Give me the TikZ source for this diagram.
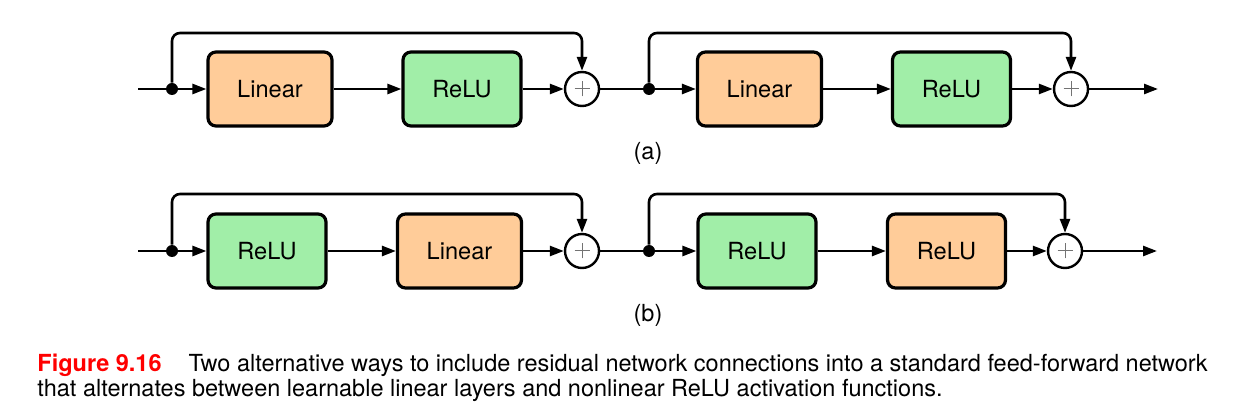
\documentclass[tikz,border=0pt]{standalone}
\usepackage{fontspec}
\setmainfont{TeX Gyre Heros}
\usepackage{tikz}
\usetikzlibrary{calc,arrows.meta}
\definecolor{linorange}{RGB}{255,204,153}
\definecolor{relugreen}{RGB}{161,238,168}
\definecolor{figred}{RGB}{255,0,0}
\tikzset{
	layer/.style={draw, line width=1.6pt, rounded corners=4pt, minimum height=37pt, inner sep=0pt, font=\fontsize{11.8}{14}\selectfont},
	linlayer/.style={layer, fill=linorange, minimum width=62pt},
	relulayer/.style={layer, fill=relugreen, minimum width=59pt},
	sumnode/.style={circle, draw, fill=white, line width=1.2pt, minimum size=17pt, inner sep=0pt,
		path picture={\draw[black!55, line width=0.5pt] ($(path picture bounding box.center)+(-3.75pt,0)$) -- ++(7.5pt,0) ($(path picture bounding box.center)+(0,-3.75pt)$) -- ++(0,7.5pt);}},
	splitdot/.style={circle, fill=black, inner sep=0pt, minimum size=6pt},
	wire/.style={line width=1.3pt},
	conn/.style={wire, -{Triangle[length=7pt,width=5pt]}},
	skip/.style={conn, rounded corners=4pt},
	captext/.style={inner sep=0pt, font=\fontsize{11.75}{14}\selectfont},
}

\begin{document}
\begin{tikzpicture}[x=0.5pt, y=-0.5pt]
			%%%%% START %%%%%
			\useasboundingbox (0, 0) rectangle (1240, 416);
			
			% (a)
			\coordinate (ina) at (138, 89);
			\node[splitdot] (da1) at (172, 89) {};
			\node[linlayer] (la1) at (270, 89) {Linear};
			\node[relulayer] (ra1) at (462, 89) {ReLU};
			\node[sumnode] (sa1) at (582, 89) {};
			\coordinate (ta1) at (582, 33);
			
			\node[splitdot] (da2) at (649, 89) {};
			\node[linlayer] (la2) at (759.5, 89) {Linear};
			\node[relulayer] (ra2) at (951.5, 89) {ReLU};
			\node[sumnode] (sa2) at (1071, 89) {};
			\coordinate (ta2) at (1071, 33);
			\coordinate (outa) at (1158, 89);
			
			\draw[wire] (ina) -- (da1);
			\draw[conn] (da1) -- (la1);
			\draw[conn] (la1) -- (ra1);
			\draw[conn] (ra1) -- (sa1);
			\draw[skip] (da1) |- (ta1) -- (sa1);
			\draw[wire] (sa1) -- (da2);
			\draw[conn] (da2) -- (la2);
			\draw[conn] (la2) -- (ra2);
			\draw[conn] (ra2) -- (sa2);
			\draw[skip] (da2) |- (ta2) -- (sa2);
			\draw[conn] (sa2) -- (outa);
			
			\node[captext] (capa) at (648, 153) {(a)};
			
			% (b)
			\coordinate (inb) at (138, 251);
			\node[splitdot] (db1) at (172, 251) {};
			\node[relulayer] (rb1) at (267, 251) {ReLU};
			\node[linlayer] (lb1) at (459.5, 251) {Linear};
			\node[sumnode] (sb1) at (582, 251) {};
			\coordinate (tb1) at (582, 194);
			
			\node[splitdot] (db2) at (649, 251) {};
			\node[relulayer] (rb2) at (757, 251) {ReLU};
			\node[linlayer, minimum width=59pt] (lb2) at (946.5, 251) {ReLU};
			\node[sumnode] (sb2) at (1065, 251) {};
			\coordinate (tb2) at (1065, 194);
			\coordinate (outb) at (1157, 251);
			
			\draw[wire] (inb) -- (db1);
			\draw[conn] (db1) -- (rb1);
			\draw[conn] (rb1) -- (lb1);
			\draw[conn] (lb1) -- (sb1);
			\draw[skip] (db1) |- (tb1) -- (sb1);
			\draw[wire] (sb1) -- (db2);
			\draw[conn] (db2) -- (rb2);
			\draw[conn] (rb2) -- (lb2);
			\draw[conn] (lb2) -- (sb2);
			\draw[skip] (db2) |- (tb2) -- (sb2);
			\draw[conn] (sb2) -- (outb);
			
			\node[captext] (capb) at (648, 315) {(b)};
			
			% caption
			\node[captext, anchor=base west] (cap1) at (37, 371) {\textcolor{figred}{\textbf{Figure 9.16}}\hspace{13.5pt}Two alternative ways to include residual network connections into a standard feed-forward network};
			\node[captext, anchor=base west] (cap2) at (37, 396) {that alternates between learnable linear layers and nonlinear ReLU activation functions.};
			
			%%%%% END %%%%%
\end{tikzpicture}
\end{document}
